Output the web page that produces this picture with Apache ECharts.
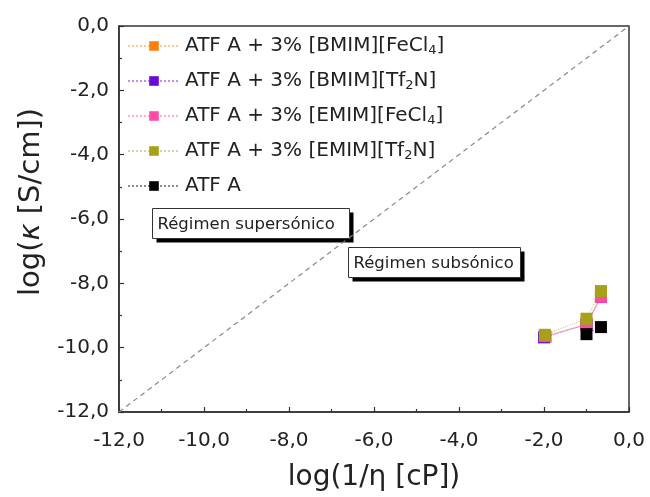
<!DOCTYPE html>
<html>
<head>
<meta charset="utf-8">
<script src="https://cdn.jsdelivr.net/npm/echarts@6/dist/echarts.min.js"></script>
<style>
  html, body { margin: 0; padding: 0; background: #fff; }
  #chart { width: 650px; height: 497px; }
</style>
</head>
<body>
<div id="chart"></div>
<script>
// log(1/eta) vs log(kappa) for the base fluid and its ionic-liquid blends
const seriesNames = [
  'ATF A + 3% [BMIM][FeCl{sub|4}]',
  'ATF A + 3% [BMIM][Tf{sub|2}N]',
  'ATF A + 3% [EMIM][FeCl{sub|4}]',
  'ATF A + 3% [EMIM][Tf{sub|2}N]',
  'ATF A'
];
const seriesColors = ['#ff7f0e', '#6a0ad8', '#ff4aa8', '#a6a01a', '#000000'];

const bmimFeCl4 = [[-1.96, -9.66], [-1.0, -9.26], [-0.66, -8.40]];
const bmimTf2N  = [[-2.00, -9.68], [-1.0, -9.28], [-0.66, -8.42]];
const emimFeCl4 = [[-1.98, -9.64], [-1.0, -9.28], [-0.66, -8.42]];
const emimTf2N  = [[-1.98, -9.60], [-1.0, -9.10], [-0.66, -8.24]];
const atfA      = [[-1.0, -9.58], [-0.66, -9.36]];

// reference line log(kappa) = log(1/eta)
const walden = [[-12, -12], [0, 0]];

const axisMin = -12, axisMax = 0, axisStep = 2;

const fmt = v => v.toFixed(1).replace('.', ',');
const FONT = 'DejaVu Sans';
const INK = '#222';

const chart = echarts.init(document.getElementById('chart'));

const dataSets = [bmimFeCl4, bmimTf2N, emimFeCl4, emimTf2N, atfA];
const series = dataSets.map((d, i) => ({
  name: seriesNames[i],
  type: 'line',
  data: d,
  symbol: 'rect',
  symbolSize: 12,
  z: 3 + i,
  itemStyle: { color: seriesColors[i] },
  lineStyle: { color: seriesColors[i], type: 'dotted', width: 1.2, opacity: 0.45 }
}));

series.unshift({
  type: 'line',
  data: walden,
  symbol: 'none',
  silent: true,
  z: 1,
  lineStyle: { color: '#888', type: [5, 4], width: 1.2 }
});

function boxLabel(x, y, w, h, text) {
  return {
    type: 'group',
    left: x, top: y,
    z: 50,
    children: [
      { type: 'rect', shape: { x: 4, y: 4, width: w, height: h }, style: { fill: '#000' } },
      { type: 'rect', shape: { x: 0, y: 0, width: w, height: h }, style: { fill: '#fff', stroke: '#333', lineWidth: 1 } },
      { type: 'text', x: 5, y: h / 2 + 1, style: { text: text, fontFamily: FONT, fontSize: 16.5, fill: INK, textVerticalAlign: 'middle' } }
    ]
  };
}

const axisCommon = {
  type: 'value', min: axisMin, max: axisMax, interval: axisStep,
  nameLocation: 'middle',
  axisLine: { show: true, onZero: false, lineStyle: { color: '#333', width: 1.5 } },
  axisTick: { show: true, inside: true, length: 5, lineStyle: { color: '#333', width: 1.2 } },
  minorTick: { show: true, splitNumber: 2, length: 3, lineStyle: { color: '#333', width: 1.2 } },
  splitLine: { show: false }
};

chart.setOption({
  animation: false,
  backgroundColor: '#fff',
  textStyle: { fontFamily: FONT },
  grid: {
    left: 119, right: 21, top: 26, bottom: 85,
    show: true, borderColor: '#333', borderWidth: 1.5
  },
  legend: {
    data: seriesNames,
    orient: 'vertical',
    left: 122, top: 30,
    itemWidth: 52, itemHeight: 12,
    itemGap: 13,
    formatter: n => n,
    textStyle: {
      fontFamily: FONT, fontSize: 20, color: INK, lineHeight: 22,
      rich: { sub: { fontSize: 13, lineHeight: 22, verticalAlign: 'bottom', padding: [9, 0, 0, 0], fontFamily: FONT, color: INK } }
    }
  },
  xAxis: Object.assign({}, axisCommon, {
    name: 'log(1/η [cP])', nameGap: 52,
    nameTextStyle: { fontFamily: FONT, fontSize: 28, color: INK },
    axisLabel: { fontFamily: FONT, fontSize: 20, color: INK, margin: 19, formatter: v => fmt(v) }
  }),
  yAxis: Object.assign({}, axisCommon, {
    name: 'log({it|κ} [S/cm])', nameGap: 72,
    nameTextStyle: {
      fontFamily: FONT, fontSize: 29, color: INK, padding: [0, 0, 0, 34],
      rich: { it: { fontFamily: FONT, fontSize: 29, fontStyle: 'italic', color: INK } }
    },
    axisLabel: { fontFamily: FONT, fontSize: 20, color: INK, margin: 10, formatter: v => fmt(v) }
  }),
  graphic: [
    boxLabel(152, 208, 197, 30, 'Régimen supersónico'),
    boxLabel(348, 247, 172, 30, 'Régimen subsónico')
  ],
  series: series
});
</script>
</body>
</html>
